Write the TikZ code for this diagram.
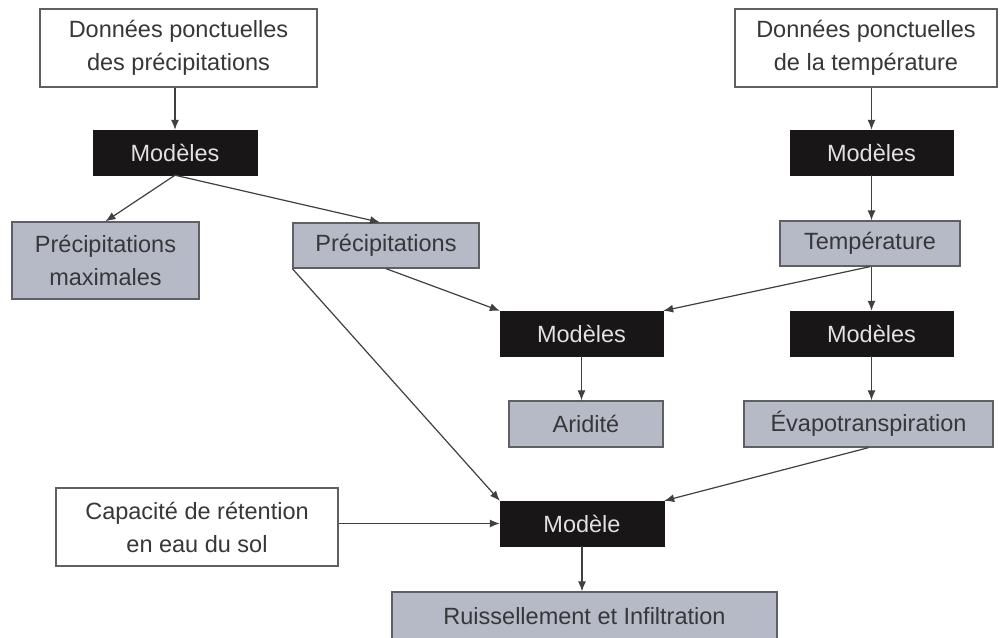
\documentclass[tikz,border=0pt]{standalone}
\usepackage{fontspec}
\setmainfont{Liberation Sans}
\usetikzlibrary{arrows.meta}

\definecolor{boxgray}{RGB}{182,186,198}
\definecolor{edgegray}{RGB}{95,95,100}
\definecolor{txtgray}{RGB}{55,55,58}
\definecolor{modblack}{RGB}{24,22,22}
\definecolor{modtxt}{RGB}{225,225,225}

\begin{document}
\begin{tikzpicture}[x=1pt,y=-1pt,
    every node/.style={inner sep=0pt,align=center,font=\fontsize{23.5}{33}\selectfont},
    databox/.style={draw=edgegray,line width=1.3pt,fill=white,text=txtgray},
    modelbox/.style={fill=modblack,draw=modblack,text=modtxt,minimum height=45pt},
    resultbox/.style={draw=edgegray,line width=1.3pt,fill=boxgray,text=txtgray},
    >={Latex[length=10pt,width=8pt]},
    flow/.style={->,draw=black!75,line width=1.2pt}]
    \clip (0,0) rectangle (1000,637);
    \fill[white] (0,0) rectangle (1000,637);
    \node[databox,minimum width=277pt,minimum height=78pt] at (178.5,48) (donP) {Données ponctuelles\\des précipitations};
    \node[databox,minimum width=262pt,minimum height=78pt] at (866,48) (donT) {Données ponctuelles\\de la température};
    \node[modelbox,minimum width=164pt] at (175,152.5) (modP) {Modèles};
    \node[modelbox,minimum width=163pt] at (871.5,152.5) (modT) {Modèles};
    \node[resultbox,minimum width=187pt,minimum height=77pt] at (105.5,260.5) (pmax) {Précipitations\\maximales};
    \node[resultbox,minimum width=186pt,minimum height=45pt] at (386,245.5) (prec) {Précipitations};
    \node[resultbox,minimum width=180pt,minimum height=45pt] at (870,243.5) (temp) {Température};
    \node[modelbox,minimum width=163pt] at (581.5,333.5) (modA) {Modèles};
    \node[modelbox,minimum width=163pt] at (871.5,333.5) (modE) {Modèles};
    \node[resultbox,minimum width=154pt,minimum height=46pt] at (586,424) (arid) {Aridité};
    \node[resultbox,minimum width=249pt,minimum height=46pt] at (868.5,424) (evap) {Évapotranspiration};
    \node[databox,minimum width=282pt,minimum height=78pt] at (197,527) (cap) {Capacité de rétention\\en eau du sol};
    \node[modelbox,minimum width=164pt] at (582,523.5) (mod) {Modèle};
    \node[resultbox,minimum width=385pt,minimum height=60pt] at (584.5,622) (ruis) {};
    \node[text=txtgray] at (584.5,616) (ruistxt) {Ruissellement et Infiltration};
    \draw[flow] (modP.north |- donP.south) -- (modP.north);
    \draw[flow] (modT.north |- donT.south) -- (modT.north);
    \draw[flow] (modP.south) -- (pmax.north);
    \draw[flow] (modP.south) -- ([xshift=-6pt]prec.north);
    \draw[flow] (modT.south) -- (modT.south |- temp.north);
    \draw[flow] (prec.south) -- (modA.north west);
    \draw[flow] (temp.south) -- (modA.north east);
    \draw[flow] (modE.north |- temp.south) -- (modE.north);
    \draw[flow] (modA.south) -- (modA.south |- arid.north);
    \draw[flow] (modE.south) -- (modE.south |- evap.north);
    \draw[flow] (prec.south west) -- (mod.north west);
    \draw[flow] (evap.south) -- (mod.north east);
    \draw[flow] (cap.east |- mod.west) -- (mod.west);
    \draw[flow] (mod.south) -- (mod.south |- ruis.north);
\end{tikzpicture}
\end{document}
